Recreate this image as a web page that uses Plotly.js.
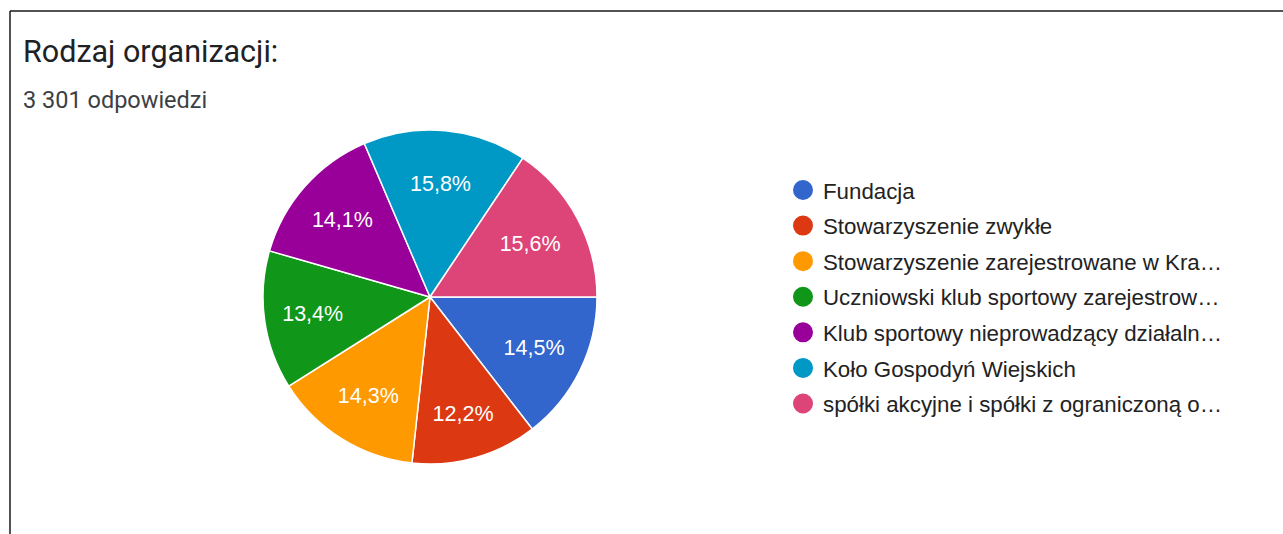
<!DOCTYPE html>
<html>
<head>
<meta charset="utf-8">
<script src="https://cdn.plot.ly/plotly-3.0.1.min.js"></script>
<style>
html,body{margin:0;padding:0;background:#fff;}
#chart{width:1283px;height:534px;}
</style>
</head>
<body>
<div id="chart"></div>
<script>
const chartTitle = "Rodzaj organizacji:";
const responsesText = "3 301 odpowiedzi";
const labels = [
  "Fundacja",
  "Stowarzyszenie zwykłe",
  "Stowarzyszenie zarejestrowane w Kra…",
  "Uczniowski klub sportowy zarejestrow…",
  "Klub sportowy nieprowadzący działaln…",
  "Koło Gospodyń Wiejskich",
  "spółki akcyjne i spółki z ograniczoną o…"
];
const values = [14.5, 12.2, 14.3, 13.4, 14.1, 15.8, 15.6];
const colors = ["#3366cc", "#dc3912", "#ff9900", "#109618", "#990099", "#0099c6", "#dd4477"];

const W = 1283, H = 534;
const cx = 430, cy = 297, r = 167;

const pie = {
  type: "pie",
  labels: labels,
  values: values,
  sort: false,
  direction: "clockwise",
  rotation: 90,
  marker: {colors: colors, line: {color: "#ffffff", width: 1.5}},
  textinfo: "percent",
  texttemplate: "%{percent:.1%}",
  textposition: "inside",
  insidetextorientation: "horizontal",
  textfont: {family: "Liberation Sans, Arial, sans-serif", size: 21.5, color: "#ffffff"},
  hoverinfo: "label+percent",
  showlegend: false,
  domain: {x: [(cx - r) / W, (cx + r) / W], y: [(H - cy - r) / H, (H - cy + r) / H]}
};

const legendTraces = labels.map((lab, i) => ({
  type: "scatter",
  mode: "markers",
  x: [null], y: [null],
  name: lab,
  legendgroup: "g" + i,
  marker: {color: colors[i], size: 16, symbol: "circle", line: {color: colors[i], width: 4}},
  hoverinfo: "skip"
}));

const layout = {
  width: W, height: H,
  margin: {l: 0, r: 0, t: 0, b: 0},
  paper_bgcolor: "#ffffff",
  plot_bgcolor: "#ffffff",
  separators: ", ",
  xaxis: {visible: false, domain: [0.999, 1]},
  yaxis: {visible: false, domain: [0.999, 1]},
  title: {
    text: chartTitle,
    font: {family: "Roboto, sans-serif", size: 30.5, color: "#202124"},
    x: 23 / W, xanchor: "left", xref: "container",
    y: 1 - 51 / H, yanchor: "middle", yref: "container"
  },
  annotations: [{
    text: responsesText,
    xref: "paper", yref: "paper",
    x: 21 / W, y: 1 - 100 / H,
    xanchor: "left", yanchor: "middle",
    showarrow: false,
    font: {family: "Roboto, sans-serif", size: 23.5, color: "#3c4043"}
  }],
  showlegend: true,
  legend: {
    x: 783 / W, xanchor: "left",
    y: 1 - 169 / H, yanchor: "top",
    font: {family: "Liberation Sans, Arial, sans-serif", size: 22.3, color: "#222222"},
    tracegroupgap: 3.6,
    bgcolor: "rgba(0,0,0,0)",
    itemclick: false, itemdoubleclick: false
  },
  shapes: [
    {type: "line", xref: "paper", yref: "paper", x0: 10 / W, x1: 1, y0: 1 - 11 / H, y1: 1 - 11 / H, line: {color: "#1a1a1a", width: 1.5}},
    {type: "line", xref: "paper", yref: "paper", x0: 10 / W, x1: 10 / W, y0: 1 - 11 / H, y1: 0, line: {color: "#1a1a1a", width: 1.5}}
  ]
};

Plotly.newPlot("chart", [pie].concat(legendTraces), layout, {displayModeBar: false});
</script>
</body>
</html>
